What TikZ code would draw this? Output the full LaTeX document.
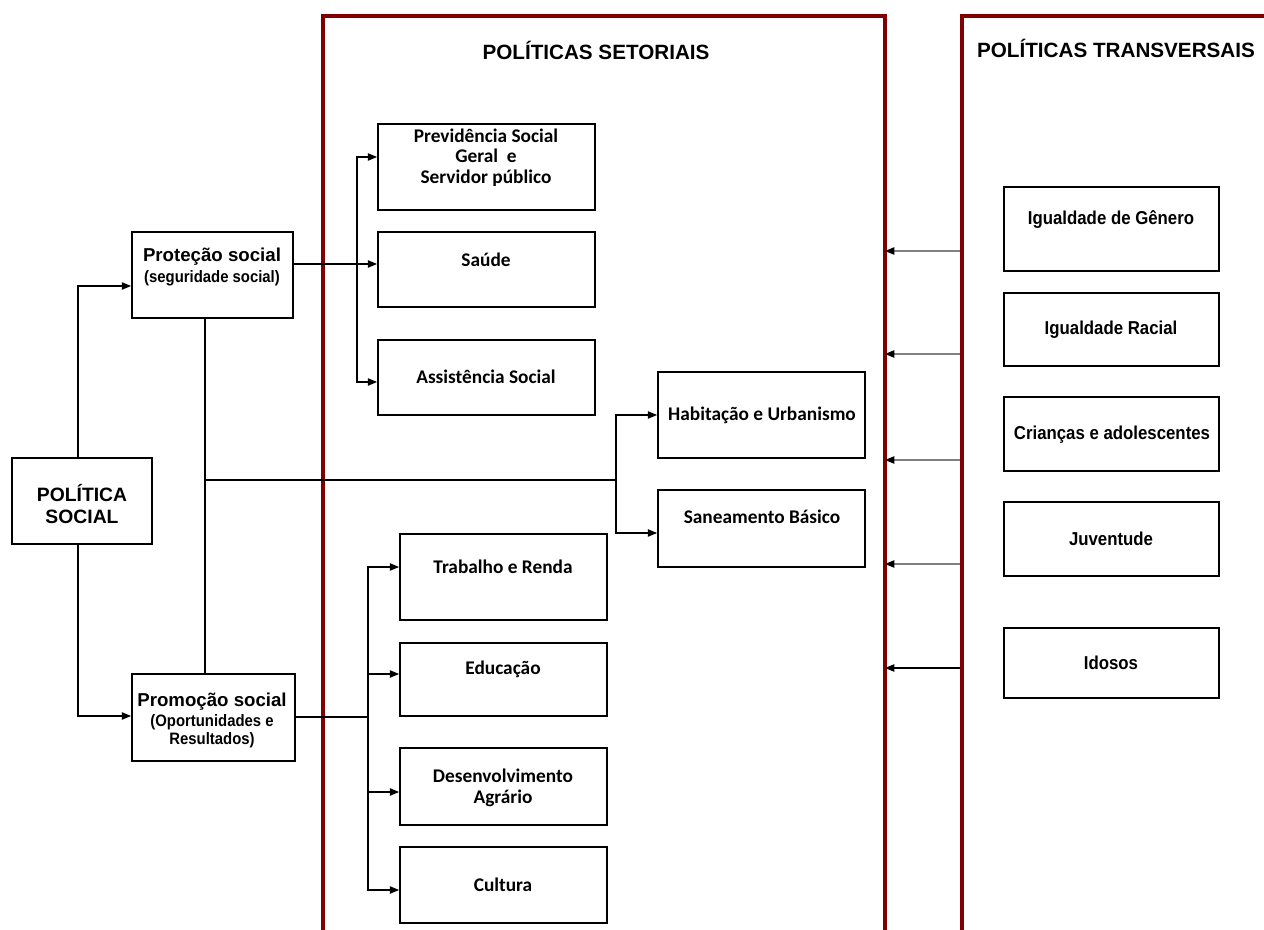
\documentclass[tikz,border=0pt]{standalone}
\usepackage{fontspec}
\setmainfont{Liberation Sans}
\newfontfamily\calfont{Carlito}
\newfontfamily\narfont[FakeStretch=0.9]{Liberation Sans}
\usetikzlibrary{arrows.meta,fit}
\definecolor{framered}{RGB}{128,0,0}
\begin{document}
\begin{tikzpicture}[x=0.75pt,y=-0.75pt,
  box/.style={draw=black, line width=1.3pt, inner sep=0pt},
  ln/.style={line width=1pt},
  arr/.style={line width=1pt, -{Triangle[length=7pt,width=5.5pt]}},
  garr/.style={line width=1pt, draw=black!50, -{Triangle[length=7pt,width=5.5pt,color=black]}},
  fr/.style={draw=framered, line width=2.6pt},
  ttl/.style={font=\bfseries\fontsize{15.5}{18}\selectfont, inner sep=0pt},
  bigt/.style={font=\bfseries\fontsize{14.5}{16.5}\selectfont, align=center, inner sep=0pt},
  atxt/.style={font=\bfseries\fontsize{14}{16}\selectfont, align=center, inner sep=0pt},
  nt/.style={font=\narfont\bfseries\fontsize{12.4}{13.5}\selectfont, align=center, inner sep=0pt},
  ct/.style={font=\calfont\bfseries\fontsize{14.5}{15.4}\selectfont, align=center, inner sep=0pt},
  tt/.style={font=\narfont\bfseries\fontsize{14}{16}\selectfont, align=center, inner sep=0pt}]
\useasboundingbox (0,0) rectangle (1264,930);

% frames
\draw[fr] (323,940) -- (323,16) -- (885,16) -- (885,940);
\draw[fr] (962,940) -- (962,16) -- (1275,16);
\node[ttl] (t1) at (596,50) {POLÍTICAS SETORIAIS};
\node[ttl] (t2) at (1116,48) {POLÍTICAS TRANSVERSAIS};

% left boxes
\node[box, fit={(12,458) (152,544)}] (ps) {};
\node[bigt] (ps-t) at (82,504) {POLÍTICA\\SOCIAL};
\node[box, fit={(132,232) (293,318)}] (prot) {};
\node[atxt] (prot-t1) at (212,257) {Proteção social};
\node[nt] (prot-t2) at (212,278) {(seguridade social)};
\node[box, fit={(132,674) (295,761)}] (prom) {};
\node[atxt] (prom-t1) at (212,702) {Promoção social};
\node[nt] (prom-t2) at (212,731) {(Oportunidades e\\Resultados)};

% sectorial boxes
\node[box, fit={(378,124) (595,210)}] (prev) {};
\node[ct] (prev-t) at (486,157.5) {Previdência Social\\Geral~ e\\Servidor público};
\node[box, fit={(378,232) (595,307)}] (sau) {};
\node[ct] (sau-t) at (486,260) {Saúde};
\node[box, fit={(378,340) (595,415)}] (ass) {};
\node[ct] (ass-t) at (486,377) {Assistência Social};
\node[box, fit={(658,372) (865,458)}] (hab) {};
\node[ct] (hab-t) at (762,415) {Habitação e Urbanismo};
\node[box, fit={(658,490) (865,567)}] (san) {};
\node[ct] (san-t) at (762,517) {Saneamento Básico};
\node[box, fit={(400,534) (607,620)}] (trab) {};
\node[ct] (trab-t) at (503,567) {Trabalho e Renda};
\node[box, fit={(400,643) (607,716)}] (edu) {};
\node[ct] (edu-t) at (503,669) {Educação};
\node[box, fit={(400,748) (607,825)}] (des) {};
\node[ct] (des-t) at (503,788) {Desenvolvimento\\Agrário};
\node[box, fit={(400,847) (607,923)}] (cul) {};
\node[ct] (cul-t) at (503,885) {Cultura};

% transversal boxes
\node[box, fit={(1004,187) (1219,271)}] (gen) {};
\node[tt] (gen-t) at (1111,220) {Igualdade de Gênero};
\node[box, fit={(1004,293) (1219,366)}] (rac) {};
\node[tt] (rac-t) at (1111,330) {Igualdade Racial};
\node[box, fit={(1004,397) (1219,471)}] (cri) {};
\node[tt] (cri-t) at (1112,435) {Crianças e adolescentes};
\node[box, fit={(1004,502) (1219,576)}] (juv) {};
\node[tt] (juv-t) at (1111,539) {Juventude};
\node[box, fit={(1004,628) (1219,698)}] (ido) {};
\node[tt] (ido-t) at (1111,663) {Idosos};

% helper coordinates
\coordinate (xa) at (78,0);
\coordinate (ya) at (0,286);
\coordinate (yb) at (0,716);
\coordinate (xc) at (205,0);
\coordinate (j1) at (205,480);
\coordinate (j2) at (616,480);
\coordinate (ysan) at (0,533);
\coordinate (ysau) at (0,264);
\coordinate (b1) at (357,264);
\coordinate (yprev) at (0,157);
\coordinate (yass) at (0,382);
\coordinate (b2) at (368,717);
\coordinate (ytr) at (0,567);
\coordinate (yed) at (0,674);
\coordinate (yde) at (0,792);
\coordinate (ycu) at (0,890);
\coordinate (fl) at (885,0);
\coordinate (frr) at (960,0);

% connectors
\draw[arr] (ps.north -| xa) |- (prot.west |- ya);
\draw[arr] (ps.south -| xa) |- (prom.west |- yb);
\draw[ln] (prot.south -| xc) -- (prom.north -| xc);
\draw[ln] (j1) -- (j2);
\draw[arr] (j2) |- (hab.west);
\draw[arr] (j2) |- (san.west |- ysan);
\draw[arr] (prot.east |- ysau) -- (sau.west |- ysau);
\draw[arr] (b1) |- (prev.west |- yprev);
\draw[arr] (b1) |- (ass.west |- yass);
\draw[ln] (prom.east |- b2) -- (b2);
\draw[arr] (b2) |- (trab.west |- ytr);
\draw[arr] (b2) |- (edu.west |- yed);
\draw[arr] (b2) |- (des.west |- yde);
\draw[arr] (b2) |- (cul.west |- ycu);

% transversal arrows
\foreach \yy/\nm in {251/g1,354/g2,460/g3,564/g4}{
  \coordinate (\nm) at (0,\yy);
  \draw[garr] (frr |- \nm) -- (fl |- \nm);
}
\coordinate (g5) at (0,668);
\draw[arr] (frr |- g5) -- (fl |- g5);
\end{tikzpicture}
\end{document}
